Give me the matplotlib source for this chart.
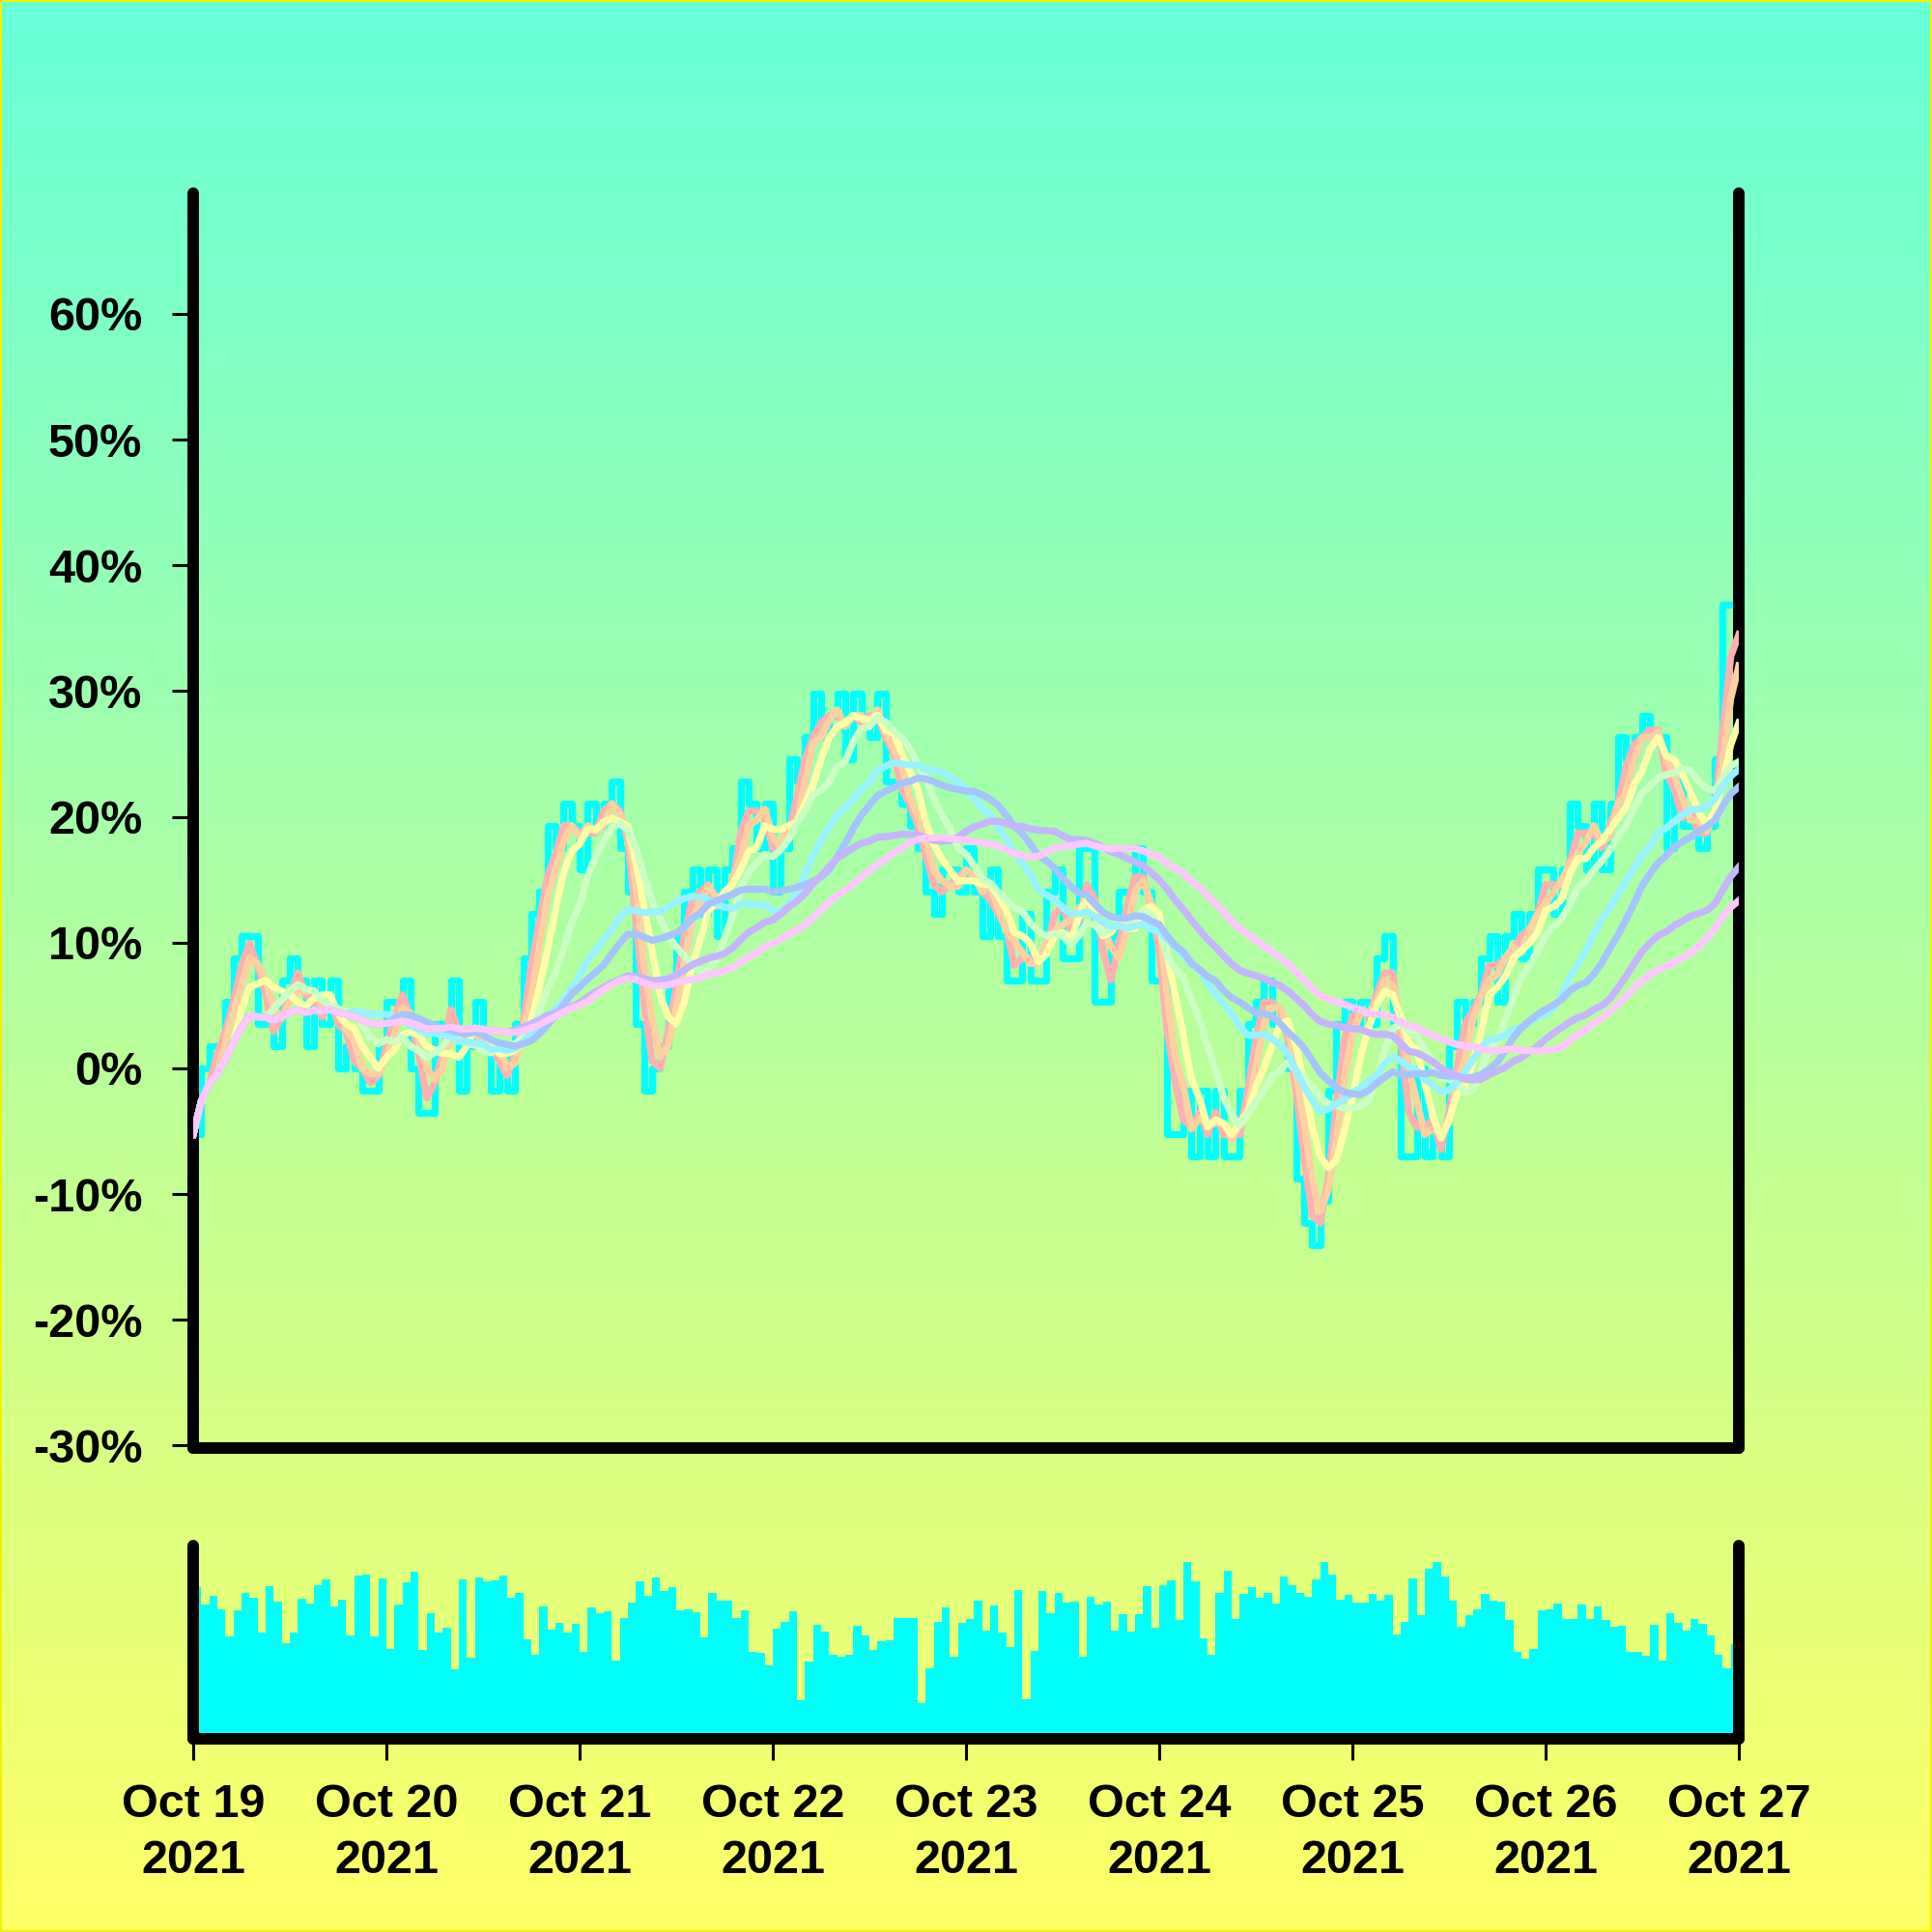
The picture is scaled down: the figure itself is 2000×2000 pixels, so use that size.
import numpy as np
import pandas as pd
import matplotlib
matplotlib.use("Agg")
import matplotlib.pyplot as plt
from matplotlib.patches import Rectangle

plt.rcParams['font.family'] = ['Liberation Sans Narrow', 'Liberation Sans', 'DejaVu Sans']
plt.rcParams['font.weight'] = 'bold'

# hourly change in percent, Oct 19 00:00 .. Oct 27 00:00
pct = [
    -5.26, 0.00, 1.75, 1.75, 5.26, 8.77, 10.53, 10.53, 3.51, 3.51, 1.75, 7.02,
    8.77, 7.02, 1.75, 7.02, 3.51, 7.02, 0.00, 1.75, 0.00, -1.75, -1.75, 1.75,
    5.26, 5.26, 7.02, 0.00, -3.51, -3.51, 3.51, 3.51, 7.02, -1.75, 1.75, 5.26,
    1.75, -1.75, 1.75, -1.75, 3.51, 8.77, 12.28, 14.04, 19.30, 17.54, 21.05, 19.30,
    15.79, 21.05, 19.30, 21.05, 22.81, 17.54, 14.04, 3.51, -1.75, 0.00, 1.75, 7.02,
    10.53, 14.04, 15.79, 12.28, 15.79, 10.53, 15.79, 17.54, 22.81, 21.05, 17.54, 21.05,
    14.04, 17.54, 24.56, 22.81, 26.32, 29.82, 26.32, 28.07, 29.82, 24.56, 29.82, 28.07,
    26.32, 29.82, 22.81, 22.81, 21.05, 19.30, 17.54, 14.04, 12.28, 15.79, 15.79, 14.04,
    17.54, 14.04, 10.53, 15.79, 10.53, 7.02, 7.02, 12.28, 7.02, 7.02, 14.04, 15.79,
    8.77, 8.77, 17.54, 17.54, 5.26, 5.26, 10.53, 14.04, 14.04, 17.54, 14.04, 7.02,
    7.02, -5.26, -5.26, -1.75, -7.02, -1.75, -7.02, -1.75, -7.02, -7.02, -1.75, 3.51,
    5.26, 7.02, 3.51, 3.51, 0.00, -8.77, -12.28, -14.04, -10.53, -1.75, 3.51, 5.26,
    3.51, 5.26, 3.51, 8.77, 10.53, 3.51, -7.02, -7.02, 0.00, -7.02, -5.26, -7.02,
    1.75, 5.26, 3.51, 5.26, 8.77, 10.53, 5.26, 10.53, 12.28, 8.77, 12.28, 15.79,
    15.79, 12.28, 15.79, 21.05, 19.30, 15.79, 21.05, 15.79, 21.05, 26.32, 24.56, 26.32,
    28.07, 26.32, 26.32, 17.54, 22.81, 19.30, 19.30, 17.54, 19.30, 24.56, 36.84, 36.84,
    29.82,
]

volume = [
    78.7, 69.5, 73.8, 67.0, 53.0, 66.7, 75.3, 72.8, 55.0, 79.2, 70.8, 49.7,
    55.0, 72.3, 70.0, 79.5, 82.3, 68.3, 71.8, 53.3, 84.5, 85.0, 52.8, 83.0,
    46.7, 69.7, 80.8, 86.3, 46.2, 65.0, 55.0, 57.5, 35.8, 82.3, 42.2, 83.3,
    81.7, 82.0, 84.3, 72.8, 75.5, 51.5, 43.3, 68.3, 56.7, 60.0, 55.0, 59.5,
    45.2, 67.8, 65.0, 65.8, 40.5, 62.5, 70.5, 81.5, 74.2, 83.5, 76.5, 78.3,
    66.7, 67.0, 65.7, 52.5, 75.3, 71.5, 71.5, 62.5, 66.7, 45.0, 44.5, 37.8,
    57.0, 60.5, 65.8, 20.0, 40.0, 58.8, 55.3, 43.7, 42.5, 43.3, 58.3, 53.3,
    46.2, 50.3, 50.8, 62.5, 62.5, 62.5, 18.7, 36.7, 60.5, 67.8, 42.5, 60.0,
    62.0, 71.5, 56.2, 69.0, 55.0, 47.5, 77.0, 20.3, 45.5, 76.3, 65.0, 75.5,
    70.3, 71.0, 42.5, 73.3, 69.5, 70.8, 56.0, 64.5, 55.3, 64.5, 78.8, 57.5,
    79.3, 82.0, 61.3, 91.3, 81.3, 52.0, 43.5, 75.3, 87.2, 62.2, 75.0, 78.7,
    72.8, 75.3, 70.0, 83.8, 79.5, 75.3, 73.3, 82.5, 91.7, 85.0, 72.2, 74.7,
    70.7, 70.7, 75.0, 71.7, 74.7, 54.2, 60.5, 82.8, 64.2, 88.0, 91.7, 84.2,
    71.7, 58.0, 64.2, 67.0, 75.0, 71.7, 71.2, 61.7, 45.0, 41.5, 46.7, 66.7,
    67.0, 70.0, 62.2, 62.0, 69.5, 62.0, 68.3, 61.7, 58.0, 58.7, 45.2, 45.2,
    43.0, 59.2, 40.3, 65.0, 60.0, 56.2, 62.0, 59.5, 53.7, 43.7, 36.7, 49.2,
    49.2,
]

ma_windows = [3, 4, 6, 10, 20, 25, 40, 50]
ma_colors = ['#FFB0B0', '#FFD0A0', '#FFFFA8', '#CCFFC4', '#99F2FF', '#A6C4FF', '#C4B6FF', '#FFC8FF']

day_labels = ['Oct 19\n2021', 'Oct 20\n2021', 'Oct 21\n2021', 'Oct 22\n2021', 'Oct 23\n2021',
              'Oct 24\n2021', 'Oct 25\n2021', 'Oct 26\n2021', 'Oct 27\n2021']
y_ticks = [-30, -20, -10, 0, 10, 20, 30, 40, 50, 60]

times = pd.date_range('2021-10-19', periods=len(pct), freq='h')
days = pd.date_range('2021-10-19', periods=len(day_labels), freq='D')
s = pd.Series(pct)

fig = plt.figure(figsize=(20, 20), dpi=100)

# gradient background
bg = fig.add_axes([0, 0, 1, 1], zorder=-10)
top = np.array([102, 255, 217]) / 255
bot = np.array([255, 255, 102]) / 255
t = np.linspace(0, 1, 512)[:, None]
grad = (top * (1 - t) + bot * t)[:, None, :]
bg.imshow(grad, aspect='auto', extent=[0, 1, 0, 1])
bg.add_patch(Rectangle((0, 0), 1, 1, transform=bg.transAxes, fill=False,
                       edgecolor='#F2F200', lw=3))
bg.set_axis_off()

ax = fig.add_axes([0.1, 0.2505, 0.8, 0.6495])
axv = fig.add_axes([0.1, 0.1, 0.8, 0.1], sharex=ax)

ax.plot(times, pct, drawstyle='steps-post', color='#00FFFF', lw=5.2, zorder=2)
for w, c in zip(ma_windows, ma_colors):
    ax.plot(times, s.rolling(w, min_periods=1).mean(), color=c, lw=5.2, zorder=3)

axv.bar(times, volume, width=1 / 24, align='edge', color='#00FFFA', linewidth=0)

for a in (ax, axv):
    a.set_facecolor('none')
    a.spines['top'].set_visible(False)
    for side in ('left', 'right', 'bottom'):
        a.spines[side].set_linewidth(8.6)
        a.spines[side].set_color('black')
        a.spines[side].set_capstyle('round')

ax.set_xlim(times[0], times[-1])
ax.set_ylim(-30.2, 69.6)
ax.set_yticks(y_ticks)
ax.set_yticklabels([f'{v}%' for v in y_ticks])
ax.tick_params(axis='y', length=16, width=2.2, pad=22, labelsize=35)
ax.tick_params(axis='x', bottom=False, labelbottom=False)

axv.set_ylim(0, 100)
axv.set_yticks([])
axv.set_xticks(days)
axv.set_xticklabels(day_labels, linespacing=1.38)
axv.tick_params(axis='x', length=16, width=2.2, pad=17, labelsize=35)

fig.savefig('out.png', dpi=100)
